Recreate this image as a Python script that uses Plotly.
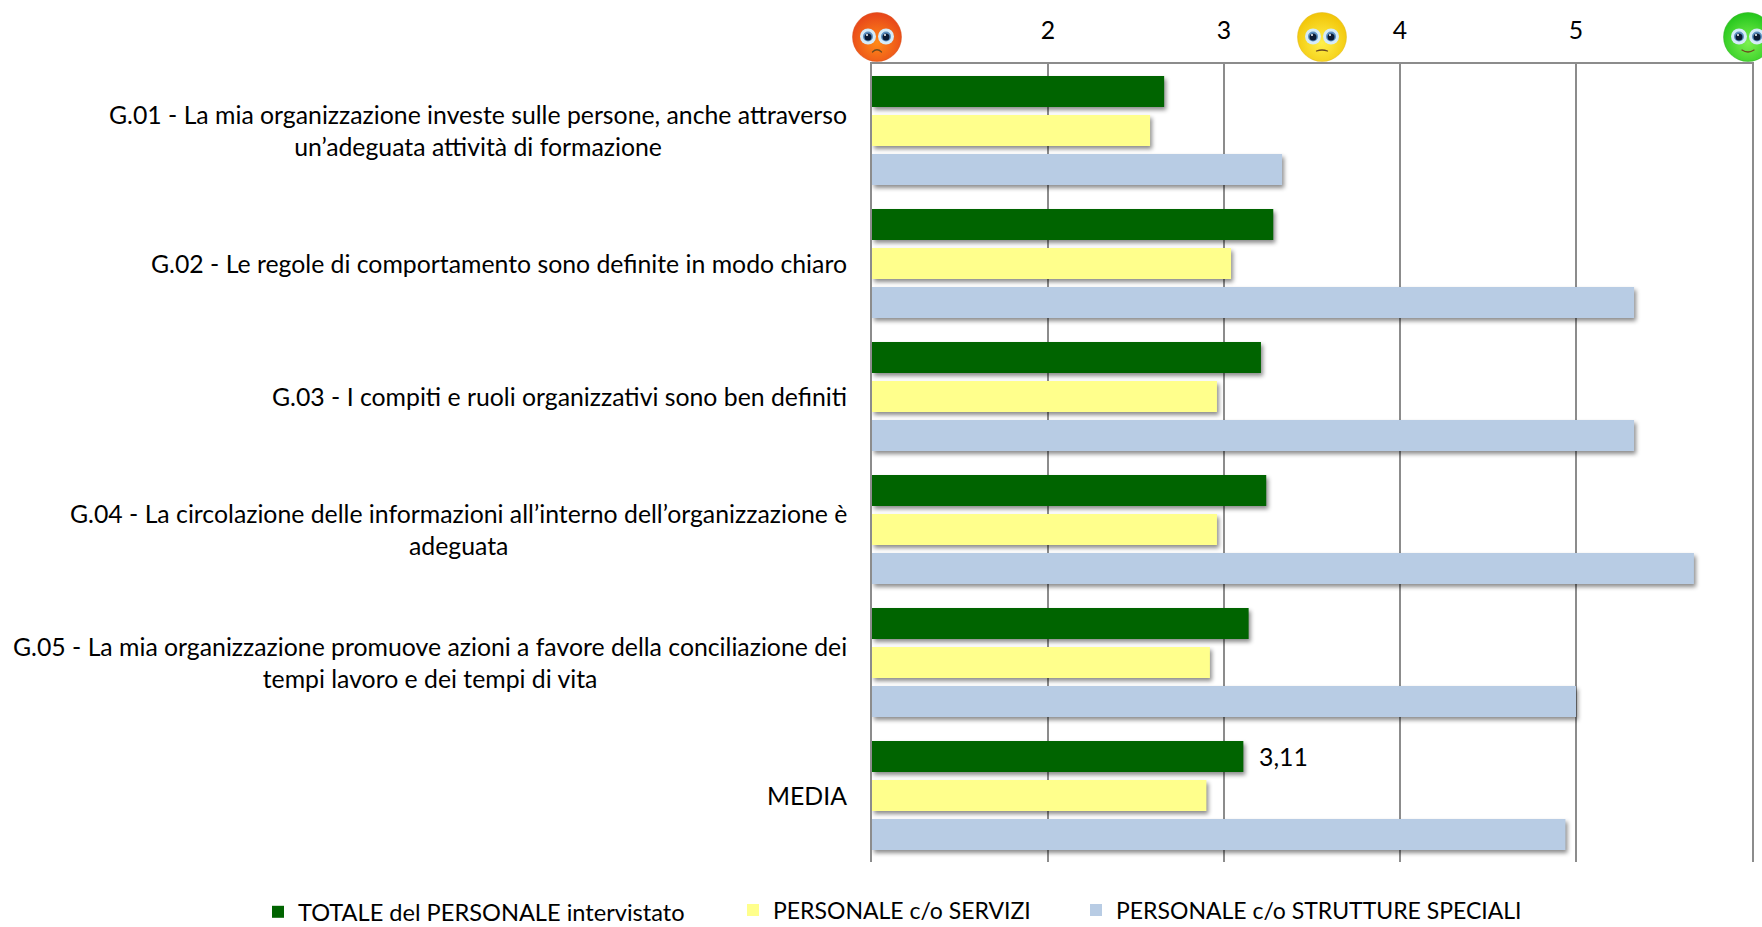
import base64
import plotly.graph_objects as go

categories = ["G.01", "G.02", "G.03", "G.04", "G.05", "MEDIA"]
category_labels = [
    "G.01 - La mia organizzazione investe sulle persone, anche attraverso<br>un’adeguata attività di formazione",
    "G.02 - Le regole di comportamento sono definite in modo chiaro",
    "G.03 - I compiti e ruoli organizzativi sono ben definiti",
    "G.04 - La circolazione delle informazioni all’interno dell’organizzazione è<br>adeguata",
    "G.05 - La mia organizzazione promuove azioni a favore della conciliazione dei<br>tempi lavoro e dei tempi di vita",
    "MEDIA",
]
totale = [2.66, 3.28, 3.21, 3.24, 3.14, 3.11]
servizi = [2.58, 3.04, 2.96, 2.96, 2.92, 2.90]
strutture = [3.33, 5.33, 5.33, 5.67, 5.00, 4.94]
totale_labels = ["", "", "", "", "", "\u00a0\u00a03,11"]
series_names = ["TOTALE del PERSONALE intervistato", "PERSONALE c/o SERVIZI", "PERSONALE c/o STRUTTURE SPECIALI"]
tick_values = [2, 3, 4, 5]
FONT = "Lato, Carlito, Calibri, sans-serif"
FS = 24.8
W, H = 1762, 927
M_R = 10
M_T = 64
PW = W - M_R
PH = H - M_T
X_LEFT, Y_BOTTOM = 872, 862


def px_x(px):
    return px / PW


def px_y(py):
    return (H - py) / PH


def face(c1, c2, edge, mouth):
    svg = f'''<svg xmlns="http://www.w3.org/2000/svg" viewBox="0 0 100 100" width="100" height="100">
<defs><radialGradient id="g" cx="50%" cy="62%" r="58%"><stop offset="0%" stop-color="{c1}"/><stop offset="100%" stop-color="{c2}"/></radialGradient></defs>
<circle cx="50" cy="50" r="49" fill="url(#g)" stroke="{edge}" stroke-width="1"/>
<circle cx="32" cy="49" r="16" fill="#d5ebf8"/><circle cx="68" cy="49" r="16" fill="#d5ebf8"/>
<circle cx="32" cy="49" r="10" fill="#5c8fc0"/><circle cx="68" cy="49" r="10" fill="#5c8fc0"/>
<circle cx="32" cy="50" r="7" fill="#0b1a33"/><circle cx="68" cy="50" r="7" fill="#0b1a33"/>
<circle cx="30" cy="46" r="2" fill="#fff"/><circle cx="66" cy="46" r="2" fill="#fff"/>
<path d="{mouth}" fill="none" stroke="#6b4a20" stroke-width="2.5" stroke-linecap="round"/></svg>'''
    return "data:image/svg+xml;base64," + base64.b64encode(svg.encode()).decode()


fig = go.Figure()
colors = ["#006400", "#FFFF8C", "#B8CCE4"]
legend_ids = ["legend", "legend2", "legend3"]
for name, vals, col, lid in zip(series_names, [totale, servizi, strutture], colors, legend_ids):
    fig.add_trace(go.Bar(
        y=categories, x=[v - 1 for v in vals], base=1, orientation="h", name=name, legend=lid,
        marker=dict(color=col, line=dict(width=0)),
        text=totale_labels if name == series_names[0] else None,
        textposition="outside", cliponaxis=False,
        textfont=dict(family=FONT, size=FS, color="#000"),
    ))

annotations = [
    dict(x=1, y=c, xref="x", yref="y", text=t, showarrow=False, xanchor="right", align="center",
         xshift=-23, font=dict(family=FONT, size=FS, color="#000"))
    for c, t in zip(categories, category_labels)
]

faces = [
    (877, face("#ff8a18", "#e8481a", "#d9501a", "M41 80 Q50 71 59 80")),
    (1322, face("#fff04a", "#f2c60a", "#e0b820", "M39 78 Q50 74 61 78")),
    (1748, face("#7cf050", "#28c81e", "#30b020", "M38 76 Q50 84 62 76")),
]
images = [
    dict(source=src, xref="paper", yref="paper", x=px_x(x), y=px_y(37), sizex=50 / PW, sizey=50 / PH,
         xanchor="center", yanchor="middle", sizing="contain", layer="above")
    for x, src in faces
]


def leg(px, size):
    return dict(orientation="h", x=px_x(px), xanchor="left", y=px_y(910), yanchor="middle",
                font=dict(family=FONT, size=size), itemclick=False, bgcolor="rgba(0,0,0,0)")


fig.update_layout(
    width=W, height=H, autosize=False,
    margin=dict(l=0, r=M_R, t=M_T, b=0, pad=0, autoexpand=False),
    paper_bgcolor="#fff", plot_bgcolor="#fff",
    barmode="group", bargap=0.12, bargroupgap=0.205,
    font=dict(family=FONT, size=FS, color="#000"),
    separators=",.",
    annotations=annotations, images=images,
    showlegend=True,
    legend=leg(258, 23.6), legend2=leg(733, 23), legend3=leg(1076, 23),
    xaxis=dict(domain=[px_x(X_LEFT), 1], side="top", range=[1, 6], tickvals=tick_values,
               ticktext=[str(t) for t in tick_values], ticklabelstandoff=13,
               showgrid=True, gridcolor="#8c8c8c", gridwidth=2, showline=True, linecolor="#8c8c8c", linewidth=2,
               ticks="", tickfont=dict(family=FONT, size=FS), zeroline=False),
    yaxis=dict(domain=[px_y(Y_BOTTOM), 1], autorange="reversed", categoryorder="array", categoryarray=categories,
               showticklabels=False, showline=True, mirror=True, linecolor="#8c8c8c", linewidth=2, ticks="",
               showgrid=False, zeroline=False),
)

post = """
document.body.style.margin='0';document.body.style.overflow='hidden';
var st=document.createElement('style');st.textContent='svg text{font-variant-ligatures:none}';document.head.appendChild(st);
document.querySelectorAll('.bars .point path').forEach(function(p){p.style.filter='drop-shadow(2px 3px 2px rgba(0,0,0,0.45))';});
document.querySelectorAll('g.legend').forEach(function(g){
  var t=g.getAttribute('transform')||'';var m=t.match(/translate\\(([-\\d.]+)[ ,]+([-\\d.]+)\\)/);
  var txt=g.querySelector('text.legendtext');
  if(m&&txt){var r=txt.getBoundingClientRect();var c=(r.top+r.bottom)/2;
    g.setAttribute('transform','translate('+m[1]+','+(parseFloat(m[2])+912-c)+')');}
});
"""
fig.write_html("out.html", post_script=post, config={"displayModeBar": False})
